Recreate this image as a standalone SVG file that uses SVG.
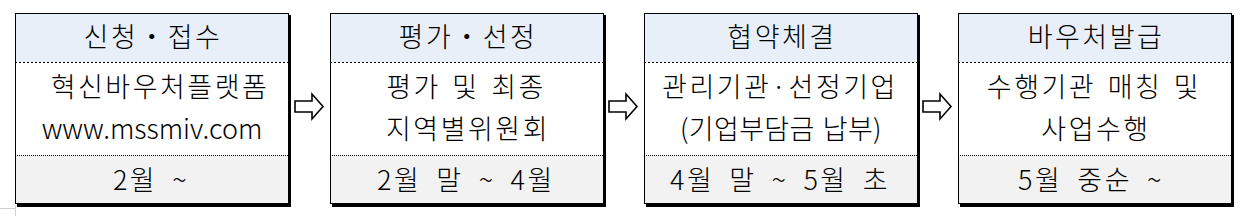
<svg xmlns="http://www.w3.org/2000/svg" width="1252" height="216" viewBox="0 0 1252 216">
<style>
.t{font-family:"Noto Sans CJK KR","Noto Sans",sans-serif;font-size:27px;font-weight:300;fill:#000;text-anchor:middle;letter-spacing:2.5px}
.m{word-spacing:3px}
.b{word-spacing:6.5px}
.u{letter-spacing:0}
.p{letter-spacing:0.3px;word-spacing:2px}
.hd{fill:#E8EFF8}
.md{fill:#FFFFFF}
.bt{fill:#F2F2F2}
.sh{fill:#000}
.fr{fill:none;stroke:#000;stroke-width:1}
.d1{stroke:#000;stroke-width:1;stroke-dasharray:2 2}
.d2{stroke:#000;stroke-width:1;stroke-dasharray:1 1}
.ar{fill:#fff;stroke:#000;stroke-width:1.6;stroke-linejoin:miter}
.gl{stroke:#D0D0D0;stroke-width:1}
</style>
<defs>
<g id="box">
<rect class="sh" x="2" y="2" width="274" height="192"/>
<rect class="hd" x="0" y="0" width="274" height="49"/>
<rect class="md" x="0" y="49" width="274" height="93"/>
<rect class="bt" x="0" y="142" width="274" height="49"/>
<line class="d1" x1="0" y1="49.5" x2="274" y2="49.5"/>
<line class="d2" x1="0" y1="142.5" x2="274" y2="142.5"/>
<rect class="fr" x="0.5" y="0.5" width="273" height="190"/>
</g>
<path id="arrow" class="ar" d="M0,7 H17 V0 L28,12.5 L17,25 V18 H0 Z"/>
</defs>
<line class="gl" x1="15.5" y1="206" x2="15.5" y2="216"/>
<line class="gl" x1="0" y1="208.5" x2="15" y2="208.5"/>
<g id="node1">
<use href="#box" x="15" y="13"/>
<text class="t" x="153" y="47">신청・접수</text>
<text class="t" x="160" y="97">혁신바우처플랫폼</text>
<text class="t u" x="152" y="139">www.mssmiv.com</text>
<text class="t b" x="151" y="190">2월  ~</text>
</g>
<g id="node2">
<use href="#box" x="330" y="13"/>
<text class="t" x="468" y="47">평가・선정</text>
<text class="t m" x="466" y="97">평가 및 최종</text>
<text class="t" x="468" y="139">지역별위원회</text>
<text class="t b" x="466" y="190">2월 말 ~ 4월</text>
</g>
<g id="node3">
<use href="#box" x="644" y="13"/>
<text class="t" x="782" y="47">협약체결</text>
<text class="t" x="780" y="97" letter-spacing="2">관리기관·선정기업</text>
<text class="t p" x="781" y="139">(기업부담금 납부)</text>
<text class="t b" x="780" y="190">4월 말 ~ 5월 초</text>
</g>
<g id="node4">
<use href="#box" x="958" y="13"/>
<text class="t" x="1096" y="47">바우처발급</text>
<text class="t m" x="1094" y="97">수행기관 매칭 및</text>
<text class="t" x="1096" y="139">사업수행</text>
<text class="t b" x="1091" y="190">5월 중순 ~</text>
</g>
<g id="connectors">
<use href="#arrow" x="295" y="94"/>
<use href="#arrow" x="609" y="94"/>
<use href="#arrow" x="923" y="94"/>
</g>
</svg>
